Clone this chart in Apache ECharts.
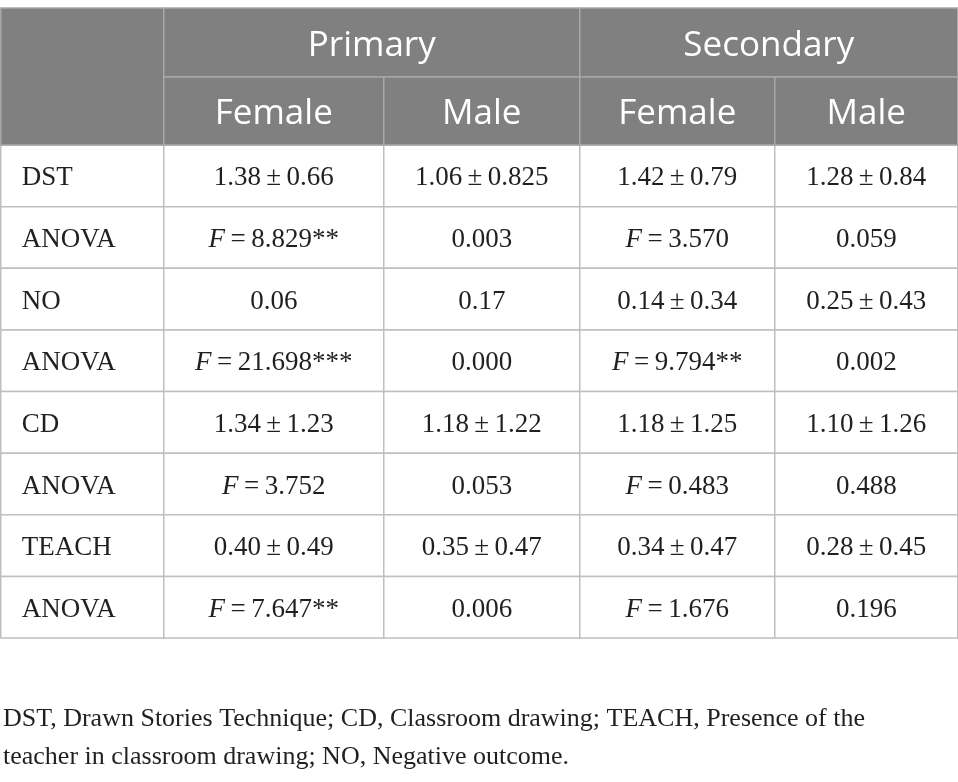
<!DOCTYPE html>
<html>
<head>
<meta charset="utf-8">
<script src="https://cdn.jsdelivr.net/npm/echarts@6/dist/echarts.min.js"></script>
<style>html,body{margin:0;padding:0;background:#fff}#c{width:958px;height:782px}</style>
</head>
<body>
<div id="c"></div>
<script>
// ---- data ----
const rowLabels = ['DST', 'ANOVA', 'NO', 'ANOVA', 'CD', 'ANOVA', 'TEACH', 'ANOVA'];
const levelLabels = ['Primary', 'Secondary'];
const sexLabels = ['Female', 'Male', 'Female', 'Male'];
const primaryFemale = ['1.38 ± 0.66', 'F = 8.829**', '0.06', 'F = 21.698***', '1.34 ± 1.23', 'F = 3.752', '0.40 ± 0.49', 'F = 7.647**'];
const primaryMale = ['1.06 ± 0.825', '0.003', '0.17', '0.000', '1.18 ± 1.22', '0.053', '0.35 ± 0.47', '0.006'];
const secondaryFemale = ['1.42 ± 0.79', 'F = 3.570', '0.14 ± 0.34', 'F = 9.794**', '1.18 ± 1.25', 'F = 0.483', '0.34 ± 0.47', 'F = 1.676'];
const secondaryMale = ['1.28 ± 0.84', '0.059', '0.25 ± 0.43', '0.002', '1.10 ± 1.26', '0.488', '0.28 ± 0.45', '0.196'];
const footnoteLines = [
  'DST, Drawn Stories Technique; CD, Classroom drawing; TEACH, Presence of the',
  'teacher in classroom drawing; NO, Negative outcome.'
];

// ---- layout (axis units) ----
const colEdges = [0, 163, 383, 579, 774, 957];
const headEdges = [0, 69, 137];
const bodyRowH = 61.625;
const bodyTop = headEdges[2];
const tableH = bodyTop + bodyRowH * rowLabels.length;

const serif = '"Liberation Serif", "Times New Roman", serif';
const sans = '"Open Sans", "Noto Sans", sans-serif';

// build cells
const cells = [];
const valueCols = [primaryFemale, primaryMale, secondaryFemale, secondaryMale];
rowLabels.forEach((lab, r) => {
  const y0 = bodyTop + r * bodyRowH, y1 = y0 + bodyRowH;
  cells.push({v: [colEdges[0], colEdges[1], y0, y1], text: lab, kind: 'label'});
  valueCols.forEach((col, c) => {
    cells.push({v: [colEdges[c + 1], colEdges[c + 2], y0, y1], text: col[r], kind: 'body'});
  });
});
cells.push({v: [colEdges[0], colEdges[1], headEdges[0], headEdges[2]], text: '', kind: 'head'});
levelLabels.forEach((lab, i) => {
  cells.push({v: [colEdges[1 + 2 * i], colEdges[3 + 2 * i], headEdges[0], headEdges[1]], text: lab, kind: 'head'});
});
sexLabels.forEach((lab, i) => {
  cells.push({v: [colEdges[1 + i], colEdges[2 + i], headEdges[1], headEdges[2]], text: lab, kind: 'head'});
});

function fmt(t) {
  let s = t.replace(/ /g, '\u2009');
  if (s.indexOf('F\u2009') === 0) s = '{i|F}' + s.slice(1);
  return s;
}

function renderItem(params, api) {
  const c = cells[params.dataIndex];
  const p0 = api.coord([api.value(0), api.value(2)]);
  const p1 = api.coord([api.value(1), api.value(3)]);
  const x = Math.min(p0[0], p1[0]), y = Math.min(p0[1], p1[1]);
  const w = Math.abs(p1[0] - p0[0]), h = Math.abs(p1[1] - p0[1]);
  const head = c.kind === 'head';
  const children = [{
    type: 'rect',
    shape: {x: x, y: y, width: w, height: h},
    style: {fill: head ? '#7f807f' : '#ffffff', stroke: head ? '#a7a8a7' : '#bfbfbf', lineWidth: 1.5}
  }];
  if (c.text) {
    const isLabel = c.kind === 'label';
    children.push({
      type: 'text',
      style: {
        text: head ? c.text : fmt(c.text),
        x: isLabel ? x + 21 : x + w / 2,
        y: y + h / 2 + (head ? 3.5 : 2.5),
        align: isLabel ? 'left' : 'center',
        verticalAlign: 'middle',
        fill: head ? '#ffffff' : '#231f20',
        fontFamily: head ? sans : serif,
        fontSize: head ? 35 : 27,
        rich: {i: {fontStyle: 'italic', fontFamily: serif, fontSize: 27, fill: '#231f20'}}
      }
    });
  }
  return {type: 'group', children: children};
}

const chart = echarts.init(document.getElementById('c'), null, {renderer: 'canvas'});
chart.setOption({
  animation: false,
  backgroundColor: '#ffffff',
  title: {
    text: footnoteLines.join('\n'),
    left: 3, top: 700, padding: 0,
    textStyle: {fontFamily: serif, fontSize: 26, fontWeight: 'normal', color: '#231f20', lineHeight: 38}
  },
  grid: {left: 0.75, top: 8, width: 957, height: tableH},
  xAxis: {type: 'value', min: 0, max: 957, show: false},
  yAxis: {type: 'value', min: 0, max: tableH, inverse: true, show: false},
  series: [{
    type: 'custom',
    renderItem: renderItem,
    data: cells.map(c => c.v),
    silent: true,
    clip: false
  }]
});
</script>
</body>
</html>
